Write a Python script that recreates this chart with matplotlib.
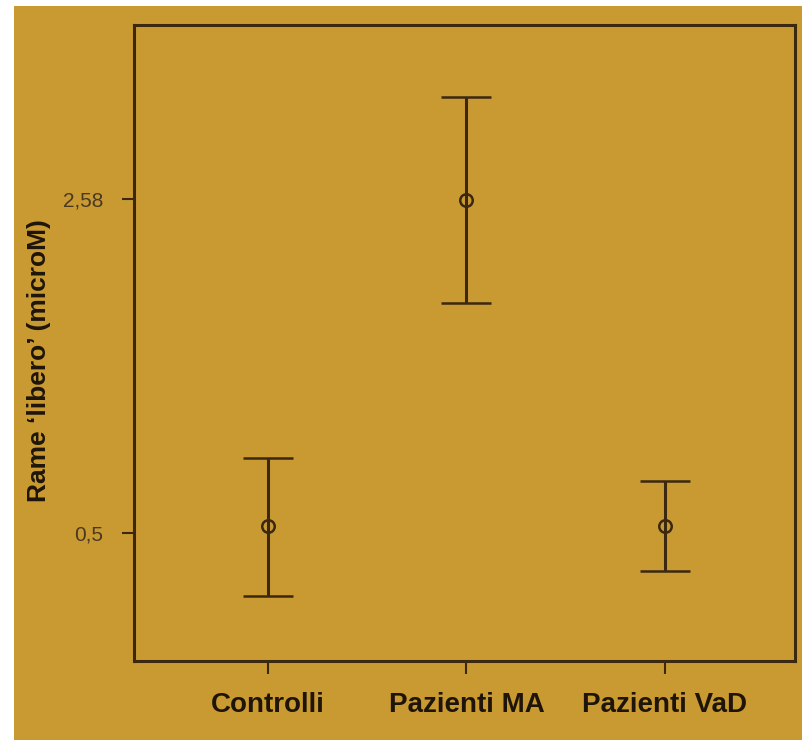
import numpy as np
import matplotlib.pyplot as plt
from matplotlib.patches import Rectangle

# data
groups = ['Controlli', 'Pazienti MA', 'Pazienti VaD']
means = [0.544, 2.574, 0.544]
upper = [0.967, 3.215, 0.824]
lower = [0.108, 1.932, 0.263]
ytick_vals = [0.5, 2.58]
ytick_labels = ['0,5', '2,58']

bg = '#c99a32'
ink = '#3a2810'

fig = plt.figure(figsize=(8.02, 7.40), dpi=100, facecolor='white')
# mustard background, leaving the thin white margin at left/top
fig.patches.append(Rectangle((14 / 802, 0), 1, 1 - 6 / 740, transform=fig.transFigure,
                             facecolor=bg, edgecolor='none', zorder=-10))

ax = fig.add_axes([134 / 802, 1 - 661 / 740, 661 / 802, 636 / 740])
ax.set_facecolor(bg)

x = np.arange(1, len(groups) + 1)
m = np.array(means)
yerr = [m - np.array(lower), np.array(upper) - m]
ax.errorbar(x, m, yerr=yerr, fmt='o', color=ink, ecolor=ink, elinewidth=2.2,
            capsize=18, capthick=2.2, markersize=9, markerfacecolor='none',
            markeredgewidth=1.8)

ax.set_xlim(0.325, 3.655)
ax.set_ylim(-0.297, 3.663)

ax.set_xticks(x)
ax.set_xticklabels(groups, fontsize=20, fontweight='bold', color='#1e1408',
                   family='Liberation Sans')
ax.set_yticks(ytick_vals)
ax.set_yticklabels(ytick_labels, fontsize=15, color='#4a3a20', family='Liberation Sans')
ax.tick_params(axis='x', length=9, width=1.5, color=ink, pad=13)
ax.tick_params(axis='y', length=9, width=1.5, color=ink, pad=13)

ax.set_ylabel("Rame \u2018libero\u2019 (microM)", fontsize=19, fontweight='bold',
              color='#1e1408', family='Liberation Sans')
ax.yaxis.set_label_coords(-0.126, 0.473)

for s in ax.spines.values():
    s.set_color(ink)
    s.set_linewidth(2.2)

fig.savefig('out.png', dpi=100, facecolor='white')
